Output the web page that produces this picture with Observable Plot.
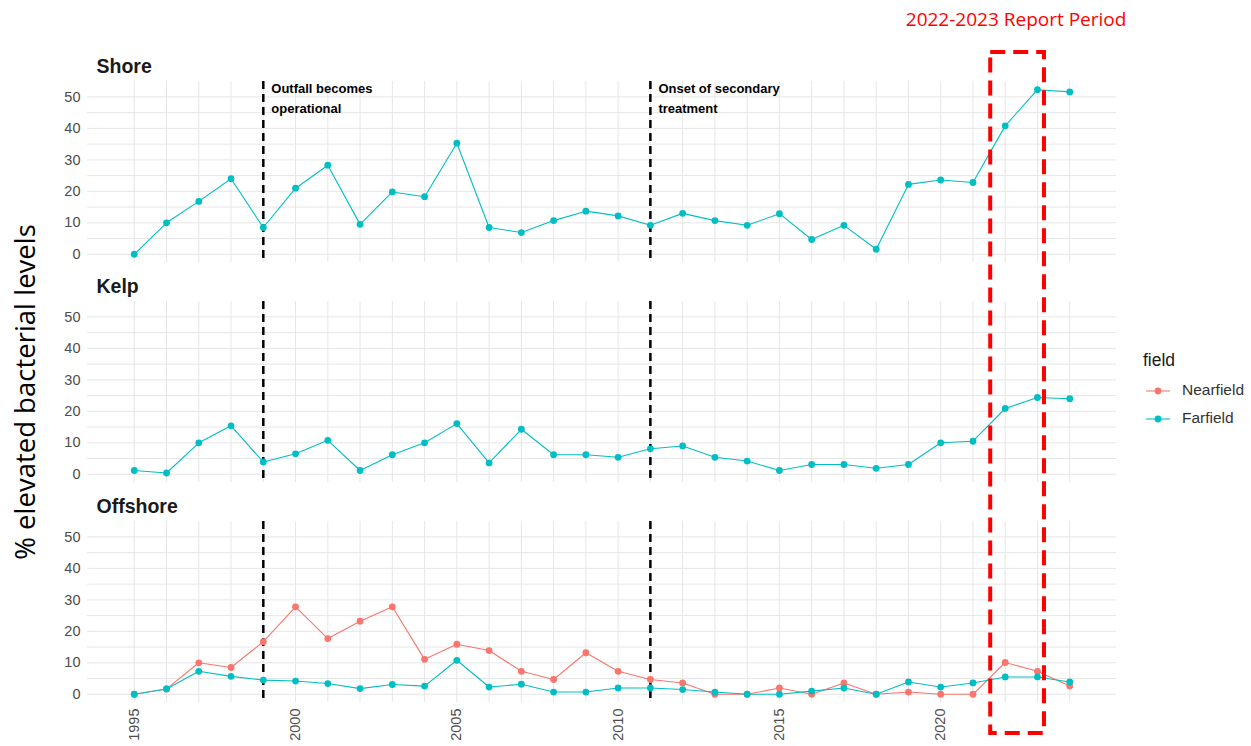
<!DOCTYPE html>
<html>
<head>
<meta charset="utf-8">
<script src="https://cdn.jsdelivr.net/npm/d3@7"></script>
<script src="https://cdn.jsdelivr.net/npm/@observablehq/plot@0.6"></script>
<style>
  body { margin: 0; background: #fff; }
  #wrap { position: relative; width: 1251px; height: 746px; overflow: hidden; font-family: "Liberation Sans", Arial, sans-serif; }
  #wrap > svg { position: absolute; left: 0; top: 0; }
  .lg { position: absolute; white-space: nowrap; }
</style>
</head>
<body>
<div id="wrap"></div>
<script>
// ---------------- data ----------------
const years = [1995, 1996, 1997, 1998, 1999, 2000, 2001, 2002, 2003, 2004,
               2005, 2006, 2007, 2008, 2009, 2010, 2011, 2012, 2013, 2014,
               2015, 2016, 2017, 2018, 2019, 2020, 2021, 2022, 2023, 2024];

const shoreFarfield = [0, 10, 16.8, 24, 8.5, 21, 28.3, 9.5, 19.8, 18.3,
                       35.3, 8.5, 6.9, 10.7, 13.7, 12.2, 9.2, 13, 10.7, 9.2,
                       12.9, 4.7, 9.2, 1.6, 22.2, 23.6, 22.8, 40.8, 52.3, 51.6];

const kelpFarfield = [1.2, 0.4, 10, 15.4, 3.9, 6.5, 10.8, 1.2, 6.2, 10,
                      16.1, 3.6, 14.3, 6.2, 6.2, 5.4, 8.1, 9, 5.4, 4.2,
                      1.2, 3.1, 3.1, 1.9, 3.1, 10, 10.5, 20.9, 24.4, 24];

const offshoreNearfield = [0, 1.7, 10, 8.5, 16.7, 27.8, 17.7, 23.2, 27.8, 11.1,
                           15.9, 13.9, 7.3, 4.7, 13.2, 7.3, 4.7, 3.6, 0, 0,
                           2, 0, 3.6, 0, 0.7, 0, 0, 10.1, 7.3, 2.6];

const offshoreFarfield = [0, 1.7, 7.3, 5.7, 4.5, 4.2, 3.4, 1.8, 3.1, 2.6,
                          10.8, 2.3, 3.2, 0.7, 0.7, 2, 2, 1.5, 0.7, 0,
                          0, 1, 2, 0, 3.9, 2.3, 3.6, 5.5, 5.5, 3.9];

const panels = ["Shore", "Kelp", "Offshore"];
const fields = ["Nearfield", "Farfield"];
const fieldColors = ["#F8766D", "#00BFC4"];
const eventYears = [1999, 2011];
const eventLabels = ["Outfall becomes\noperational", "Onset of secondary\ntreatment"];
const reportYears = [2022, 2023];
const reportLabel = "2022-2023 Report Period";
const xTickValues = [1995, 2000, 2005, 2010, 2015, 2020];
const yTickValues = [0, 10, 20, 30, 40, 50];
const yGridValues = [0, 5, 10, 15, 20, 25, 30, 35, 40, 45, 50];
const yTitle = "% elevated bacterial levels";
const legendTitle = "field";

// ---------------- table ----------------
const series = [
  {panel: "Shore", field: "Farfield", values: shoreFarfield},
  {panel: "Kelp", field: "Farfield", values: kelpFarfield},
  {panel: "Offshore", field: "Nearfield", values: offshoreNearfield},
  {panel: "Offshore", field: "Farfield", values: offshoreFarfield}
];
const rows = series.flatMap(s => years.map((yr, i) => ({panel: s.panel, field: s.field, year: yr, value: s.values[i]})));
const events = eventYears.map((y, i) => ({year: y, label: eventLabels[i]}));

const tickColor = "#4d4d4d";

const plot = Plot.plot({
  width: 1251,
  height: 746,
  marginTop: 80,
  marginBottom: 44,
  marginLeft: 87,
  marginRight: 135,
  style: {fontFamily: "Liberation Sans, Arial, sans-serif", background: "transparent", overflow: "visible"},
  x: {domain: [1993.55, 2025.45]},
  y: {domain: [-2.615, 54.9]},
  fy: {domain: panels, axis: null, paddingInner: 0.179, paddingOuter: 0},
  color: {domain: fields, range: fieldColors},
  marks: [
    Plot.gridX(years, {stroke: "#e6e6e6", strokeOpacity: 1, strokeWidth: 1}),
    Plot.gridY(yGridValues, {stroke: "#e6e6e6", strokeOpacity: 1, strokeWidth: 1}),
    Plot.axisX(xTickValues, {tickRotate: -90, tickSize: 0, tickPadding: 6, fontSize: 14.5, color: tickColor, label: null, tickFormat: d => String(d)}),
    Plot.axisY(yTickValues, {tickSize: 0, tickPadding: 7, fontSize: 14.5, color: tickColor, label: null}),
    Plot.ruleX(events, {x: "year", stroke: "black", strokeWidth: 2.5, strokeDasharray: "8,5"}),
    Plot.line(rows, {x: "year", y: "value", stroke: "field", z: "field", fy: "panel", strokeWidth: 1.1}),
    Plot.dot(rows, {x: "year", y: "value", fill: "field", fy: "panel", r: 3.4}),
    Plot.text(events, {x: "year", fy: () => "Shore", text: "label", frameAnchor: "top", textAnchor: "start",
      lineAnchor: "top", dx: 8, dy: -2, fontWeight: "bold", fontSize: 13, lineHeight: 1.5, fill: "black"}),
    Plot.text(panels, {fy: d => d, text: d => d, frameAnchor: "top-left", textAnchor: "start", lineAnchor: "middle",
      dx: 9, dy: -15, fontWeight: "bold", fontSize: 19.5, fill: "#1a1a1a"}),
    Plot.text([yTitle], {fy: () => "Kelp", text: d => d, frameAnchor: "left", rotate: -90, textAnchor: "middle",
      lineAnchor: "middle", dx: -61, fontSize: 27.5, fontFamily: "Open Sans", fill: "black"})
  ]
});

const wrap = document.getElementById("wrap");
wrap.appendChild(plot);

// ---------------- report-period box & title (positioned from the x scale) ----------------
const sx = plot.scale("x");
const bx1 = sx.apply(reportYears[0]) - 14.5;
const bx2 = sx.apply(reportYears[1]) + 7;
const ns = "http://www.w3.org/2000/svg";
const ov = document.createElementNS(ns, "svg");
ov.setAttribute("width", 1251);
ov.setAttribute("height", 746);
ov.style.position = "absolute";
ov.style.left = "0";
ov.style.top = "0";
ov.style.pointerEvents = "none";
const rect = document.createElementNS(ns, "rect");
rect.setAttribute("x", bx1);
rect.setAttribute("y", 52);
rect.setAttribute("width", bx2 - bx1);
rect.setAttribute("height", 681);
rect.setAttribute("fill", "none");
rect.setAttribute("stroke", "#ff0000");
rect.setAttribute("stroke-width", 4);
rect.setAttribute("stroke-dasharray", "15,8");
ov.appendChild(rect);
const t = document.createElementNS(ns, "text");
t.setAttribute("x", (bx1 + bx2) / 2 - 1);
t.setAttribute("y", 26);
t.setAttribute("text-anchor", "middle");
t.setAttribute("fill", "#ff0000");
t.setAttribute("font-family", "Open Sans, sans-serif");
t.setAttribute("font-size", 19);
t.textContent = reportLabel;
ov.appendChild(t);
wrap.appendChild(ov);

// ---------------- legend ----------------
const color = plot.scale("color");
const lt = document.createElement("div");
lt.className = "lg";
lt.style.left = "1143px";
lt.style.top = "350px";
lt.style.fontSize = "17.5px";
lt.style.color = "#1a1a1a";
lt.textContent = legendTitle;
wrap.appendChild(lt);
color.domain.forEach((f, i) => {
  const cy = 391 + i * 28;
  const sw = document.createElementNS(ns, "svg");
  sw.setAttribute("width", 26);
  sw.setAttribute("height", 12);
  sw.style.position = "absolute";
  sw.style.left = "1145px";
  sw.style.top = (cy - 6) + "px";
  const ln = document.createElementNS(ns, "line");
  ln.setAttribute("x1", 1); ln.setAttribute("x2", 25);
  ln.setAttribute("y1", 6); ln.setAttribute("y2", 6);
  ln.setAttribute("stroke", color.range[i]);
  ln.setAttribute("stroke-width", 1.1);
  sw.appendChild(ln);
  const c = document.createElementNS(ns, "circle");
  c.setAttribute("cx", 13); c.setAttribute("cy", 6); c.setAttribute("r", 3.4);
  c.setAttribute("fill", color.range[i]);
  sw.appendChild(c);
  wrap.appendChild(sw);
  const lab = document.createElement("div");
  lab.className = "lg";
  lab.style.left = "1182px";
  lab.style.top = (cy - 10) + "px";
  lab.style.fontSize = "15.5px";
  lab.style.color = "#333";
  lab.textContent = f;
  wrap.appendChild(lab);
});
</script>
</body>
</html>
